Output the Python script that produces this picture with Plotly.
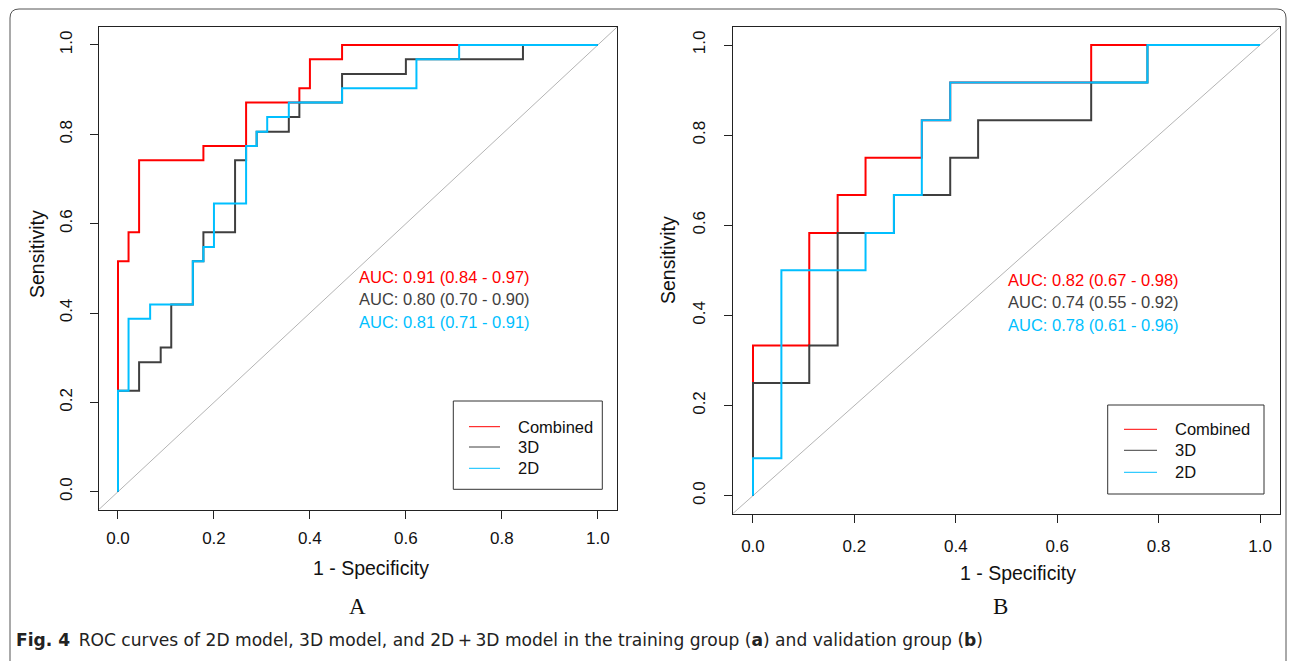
import plotly.graph_objects as go

# ---------------- data ----------------
# Panel A: training group, ROC corner points (1 - specificity, sensitivity)
a_comb_fpr = [0, 0, 0.022, 0.044, 0.178, 0.267, 0.378, 0.400, 0.467, 1.0]
a_comb_tpr = [0, 0.516, 0.581, 0.742, 0.774, 0.871, 0.903, 0.968, 1.0, 1.0]
a_3d_fpr = [0, 0, 0.044, 0.089, 0.111, 0.156, 0.178, 0.244, 0.267, 0.289, 0.356, 0.378, 0.467, 0.600, 0.844, 1.0]
a_3d_tpr = [0, 0.226, 0.290, 0.323, 0.419, 0.516, 0.581, 0.742, 0.774, 0.806, 0.839, 0.871, 0.935, 0.968, 1.0, 1.0]
a_2d_fpr = [0, 0, 0.022, 0.067, 0.156, 0.178, 0.200, 0.267, 0.289, 0.311, 0.356, 0.467, 0.622, 0.711, 1.0]
a_2d_tpr = [0, 0.226, 0.387, 0.419, 0.516, 0.548, 0.645, 0.774, 0.806, 0.839, 0.871, 0.903, 0.968, 1.0, 1.0]

# Panel B: validation group
b_comb_fpr = [0, 0, 0.111, 0.167, 0.222, 0.333, 0.389, 0.667, 1.0]
b_comb_tpr = [0, 0.333, 0.583, 0.667, 0.750, 0.833, 0.917, 1.0, 1.0]
b_3d_fpr = [0, 0, 0.111, 0.167, 0.278, 0.389, 0.444, 0.667, 0.778, 1.0]
b_3d_tpr = [0, 0.250, 0.333, 0.583, 0.667, 0.750, 0.833, 0.917, 1.0, 1.0]
b_2d_fpr = [0, 0, 0.056, 0.222, 0.278, 0.333, 0.389, 0.778, 1.0]
b_2d_tpr = [0, 0.083, 0.500, 0.583, 0.667, 0.833, 0.917, 1.0, 1.0]

series_names = ["Combined", "3D", "2D"]
series_colors = ["#FF0000", "#3F3F3F", "#00BFFF"]
auc_a = ["AUC: 0.91 (0.84 - 0.97)", "AUC: 0.80 (0.70 - 0.90)", "AUC: 0.81 (0.71 - 0.91)"]
auc_b = ["AUC: 0.82 (0.67 - 0.98)", "AUC: 0.74 (0.55 - 0.92)", "AUC: 0.78 (0.61 - 0.96)"]
auc_y_a = [0.481, 0.431, 0.380]
auc_y_b = [0.479, 0.430, 0.379]
tick_vals = [0, 0.2, 0.4, 0.6, 0.8, 1.0]
tick_text = ["0.0", "0.2", "0.4", "0.6", "0.8", "1.0"]
caption_bold = "Fig. 4"
caption_text = ("ROC curves of 2D model, 3D model, and 2D\u2009+\u20093D model in the training group "
                "(<b>a</b>) and validation group (<b>b</b>)")

W, H = 1295, 661
FONT = "Liberation Sans, Arial, sans-serif"


def px(x):
    return x / W


def py(y):
    return 1 - y / H


fig = go.Figure()

panels = [
    ("x", "y", [(a_comb_fpr, a_comb_tpr), (a_3d_fpr, a_3d_tpr), (a_2d_fpr, a_2d_tpr)]),
    ("x2", "y2", [(b_comb_fpr, b_comb_tpr), (b_3d_fpr, b_3d_tpr), (b_2d_fpr, b_2d_tpr)]),
]

for xa, ya, curves in panels:
    # chance diagonal across the whole plot region
    fig.add_trace(go.Scatter(x=[-0.04, 1.04], y=[-0.04, 1.04], mode="lines",
                             line=dict(color="#B4B4B4", width=1), xaxis=xa, yaxis=ya,
                             showlegend=False, hoverinfo="skip"))
    for (fx, ty), name, col in zip(curves, series_names, series_colors):
        fig.add_trace(go.Scatter(x=fx, y=ty, mode="lines", name=name,
                                 line=dict(color=col, width=2, shape="hv"),
                                 xaxis=xa, yaxis=ya, showlegend=False))

axis_common = dict(range=[-0.04, 1.04], showgrid=False, zeroline=False, showline=True,
                   mirror=True, linecolor="#222222", linewidth=1, ticks="outside",
                   ticklen=8, tickwidth=1, tickcolor="#222222", tickvals=tick_vals,
                   ticktext=tick_text, tickfont=dict(family=FONT, size=17, color="#111111"))

fig.update_layout(
    width=W, height=H, margin=dict(l=0, r=0, t=0, b=0),
    paper_bgcolor="white", plot_bgcolor="white", showlegend=False,
    xaxis=dict(domain=[px(98.8), px(617.0)], anchor="y", ticklabelstandoff=5, **axis_common),
    yaxis=dict(domain=[py(509.6), py(27.1)], anchor="x", tickangle=-90, ticklabelstandoff=11, **axis_common),
    xaxis2=dict(domain=[px(732.7), px(1280.3)], anchor="y2", ticklabelstandoff=9, **axis_common),
    yaxis2=dict(domain=[py(513.7), py(27.0)], anchor="x2", tickangle=-90, ticklabelstandoff=12, **axis_common),
)

ann = []
# AUC texts
for txt, yy, col in zip(auc_a, auc_y_a, series_colors):
    ann.append(dict(x=0.498, y=yy, xref="x", yref="y", text=txt, showarrow=False,
                    xanchor="left", yanchor="middle", font=dict(family=FONT, size=16.5, color=col)))
for txt, yy, col in zip(auc_b, auc_y_b, series_colors):
    ann.append(dict(x=0.499, y=yy, xref="x2", yref="y2", text=txt, showarrow=False,
                    xanchor="left", yanchor="middle", font=dict(family=FONT, size=16.5, color=col)))

# axis titles
ann.append(dict(x=px(371), y=py(568), xref="paper", yref="paper", text="1 - Specificity",
                showarrow=False, xanchor="center", yanchor="middle",
                font=dict(family=FONT, size=19.5, color="#111111")))
ann.append(dict(x=px(1018), y=py(573), xref="paper", yref="paper", text="1 - Specificity",
                showarrow=False, xanchor="center", yanchor="middle",
                font=dict(family=FONT, size=19.5, color="#111111")))
ann.append(dict(x=px(37), y=py(254), xref="paper", yref="paper", text="Sensitivity",
                showarrow=False, textangle=-90, xanchor="center", yanchor="middle",
                font=dict(family=FONT, size=19.5, color="#111111")))
ann.append(dict(x=px(668), y=py(260), xref="paper", yref="paper", text="Sensitivity",
                showarrow=False, textangle=-90, xanchor="center", yanchor="middle",
                font=dict(family=FONT, size=19.5, color="#111111")))

# panel letters
ann.append(dict(x=px(357), y=py(606), xref="paper", yref="paper", text="A", showarrow=False,
                xanchor="center", yanchor="middle",
                font=dict(family="Liberation Serif, Times New Roman, serif", size=23, color="#111111")))
ann.append(dict(x=px(1000), y=py(606), xref="paper", yref="paper", text="B", showarrow=False,
                xanchor="center", yanchor="middle",
                font=dict(family="Liberation Serif, Times New Roman, serif", size=23, color="#111111")))

# caption
ann.append(dict(x=px(14), y=py(640), xref="paper", yref="paper",
                text="<b>" + caption_bold + "</b>\u2002" + caption_text, showarrow=False,
                xanchor="left", yanchor="middle",
                font=dict(family="DejaVu Sans, sans-serif", size=17.1, color="#222222")))

shapes = []
# legends drawn R-style
legend_boxes = [
    dict(x0=453.3, x1=602.3, y0=401, y1=489.3, lx0=469, lx1=500, tx=516, rows=[426.7, 447.0, 468.3]),
    dict(x0=1107.7, x1=1264, y0=405, y1=494, lx0=1124, lx1=1157, tx=1173, rows=[429.3, 450.3, 472.3]),
]
for lb in legend_boxes:
    shapes.append(dict(type="rect", xref="paper", yref="paper", x0=px(lb["x0"]), x1=px(lb["x1"]),
                       y0=py(lb["y1"]), y1=py(lb["y0"]), line=dict(color="#333333", width=1),
                       fillcolor="white", layer="above"))
    for ry, name, col in zip(lb["rows"], series_names, series_colors):
        shapes.append(dict(type="line", xref="paper", yref="paper", x0=px(lb["lx0"]), x1=px(lb["lx1"]),
                           y0=py(ry), y1=py(ry), line=dict(color=col, width=1), layer="above"))
        ann.append(dict(x=px(lb["tx"]), y=py(ry), xref="paper", yref="paper", text=name,
                        showarrow=False, xanchor="left", yanchor="middle",
                        font=dict(family=FONT, size=16.5, color="#111111")))

# outer rounded frame
L, T, R, B, r = 10, 9, 1286, 661, 9
path = (f"M {px(L)},{py(B)} L {px(L)},{py(T + r)} Q {px(L)},{py(T)} {px(L + r)},{py(T)} "
        f"L {px(R - r)},{py(T)} Q {px(R)},{py(T)} {px(R)},{py(T + r)} L {px(R)},{py(B)}")
shapes.append(dict(type="path", xref="paper", yref="paper", path=path,
                   line=dict(color="#555555", width=1)))

fig.update_layout(annotations=ann, shapes=shapes)

fig.write_html("out.html")
